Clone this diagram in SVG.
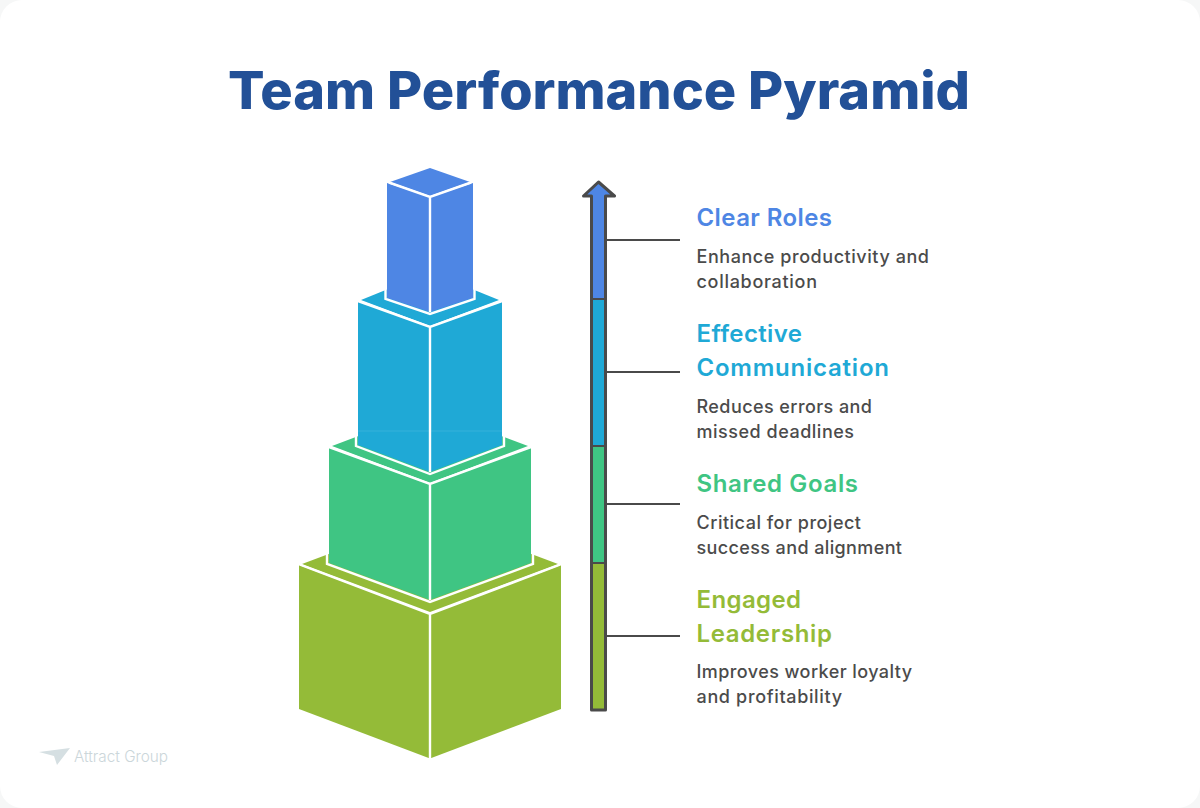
<svg xmlns="http://www.w3.org/2000/svg" width="1200" height="808" viewBox="0 0 1200 808">
<style>
.t{font-family:"Inter","Liberation Sans",sans-serif}
.title{font-size:52px;font-weight:800;fill:#225097}
.h{font-size:24px;font-weight:600}
.d{font-size:18px;font-weight:500;fill:#4b4b4b}
.halo{fill:none;stroke:#fff;stroke-width:2.4}
.seg{stroke:none}
.c1{fill:#4e86e4}.c2{fill:#1fa9d6}.c3{fill:#3fc583}.c4{fill:#94bb38}
.leader{stroke:#4a4a4a;stroke-width:2;fill:none}
</style>
<rect width="1200" height="808" fill="#f6f7f7"/>
<rect width="1200" height="808" rx="22" fill="#ffffff"/>
<text class="t title" x="599" y="108.500" text-anchor="middle" textLength="742" lengthAdjust="spacingAndGlyphs">Team Performance Pyramid</text>
<g id="logo"><path d="M39 752L70 748L57 765L54 756Z" fill="#d5dfe2"/><text class="t" x="74" y="762" font-size="15.300" font-weight="300" fill="#cbd6da">Attract Group</text></g>
<g id="level-engaged-leadership">
<path class="c4" d="M302 564L430 516L558 564L430 612Z"/>
<path class="c4" d="M299 565L430 614V758.500L299 709Z"/>
<path class="c4" d="M561 565L430 614V758.500L561 709Z"/>
<path class="halo" d="M299.500 564.500L430 614L560.500 564.500M430 614V759"/>
</g>
<g id="level-shared-goals">
<path class="c3" d="M332 446L430 409L528 446L430 483Z"/>
<path class="c3" d="M329 447L430 484V600L329 563Z"/>
<path class="c3" d="M531 447L430 484V600L531 563Z"/>
<path class="halo" d="M329 447L430 484L531 447M430 484V600M327 550V564L430 602L533 564V550"/>
</g>
<g id="level-effective-communication">
<path class="c2" d="M361 300L430 272L499 300L430 326Z"/>
<path class="c2" d="M358 301L430 327V472L358 445Z"/>
<path class="c2" d="M502 301L430 327V472L502 445Z"/>
<path d="M358 431H502" stroke="#ffffff" stroke-opacity=".1" stroke-width="1"/>
<path class="halo" d="M358 301L430 327L502 301M430 327V472M356 434V446L430 474L504 446V434"/>
</g>
<g id="level-clear-roles">
<path class="c1" d="M390 182L430 168L470 182L430 196Z"/>
<path class="c1" d="M387 183L430 197V312L387 298Z"/>
<path class="c1" d="M473 183L430 197V312L473 298Z"/>
<path class="halo" d="M389 182.500L430 197L471 182.500M430 197V312M385.500 288V299L430 314L474.500 299V288"/>
</g>
<g id="connectors">
<rect class="seg c4" x="591.500" y="563" width="14" height="147"/>
<rect class="seg c3" x="591.500" y="446" width="14" height="117"/>
<rect class="seg c2" x="591.500" y="299" width="14" height="147"/>
<path class="seg c1" d="M591.500 299V196H584L598.500 182L613 196H605.500V299Z"/>
<path d="M591 299H606M591 446H606M591 563H606" stroke="#4a4a4a" stroke-width="2" fill="none"/>
<path d="M591.500 710V196H583.500L598.500 182L614.500 196H605.500V710Z" fill="none" stroke="#4a4a4a" stroke-width="3" stroke-linejoin="round"/>
<path class="leader" d="M607 240H680M607 372H680M607 504H680M607 636H680"/>
</g>
<g id="label-clear-roles" class="t">
<text class="h" x="696.500" y="226" fill="#4e86e4" textLength="135.500">Clear Roles</text>
<text class="d" x="696.500" y="263" textLength="232.500">Enhance productivity and</text><text class="d" x="696.500" y="288" textLength="120.500">collaboration</text>
</g>
<g id="label-effective-communication" class="t">
<text class="h" x="696.500" y="342" fill="#1fa9d6" textLength="105.500">Effective</text><text class="h" x="696.500" y="376" fill="#1fa9d6" textLength="192.500">Communication</text>
<text class="d" x="696.500" y="413" textLength="175.500">Reduces errors and</text><text class="d" x="696.500" y="438" textLength="157.500">missed deadlines</text>
</g>
<g id="label-shared-goals" class="t">
<text class="h" x="696.500" y="492" fill="#3fc583" textLength="161.500">Shared Goals</text>
<text class="d" x="696.500" y="529" textLength="164.500">Critical for project</text><text class="d" x="696.500" y="554" textLength="205.500">success and alignment</text>
</g>
<g id="label-engaged-leadership" class="t">
<text class="h" x="696.500" y="608" fill="#94bb38" textLength="104.500">Engaged</text><text class="h" x="696.500" y="642" fill="#94bb38" textLength="135.500">Leadership</text>
<text class="d" x="696.500" y="678" textLength="215.500">Improves worker loyalty</text><text class="d" x="696.500" y="703" textLength="145.500">and profitability</text>
</g>
</svg>
